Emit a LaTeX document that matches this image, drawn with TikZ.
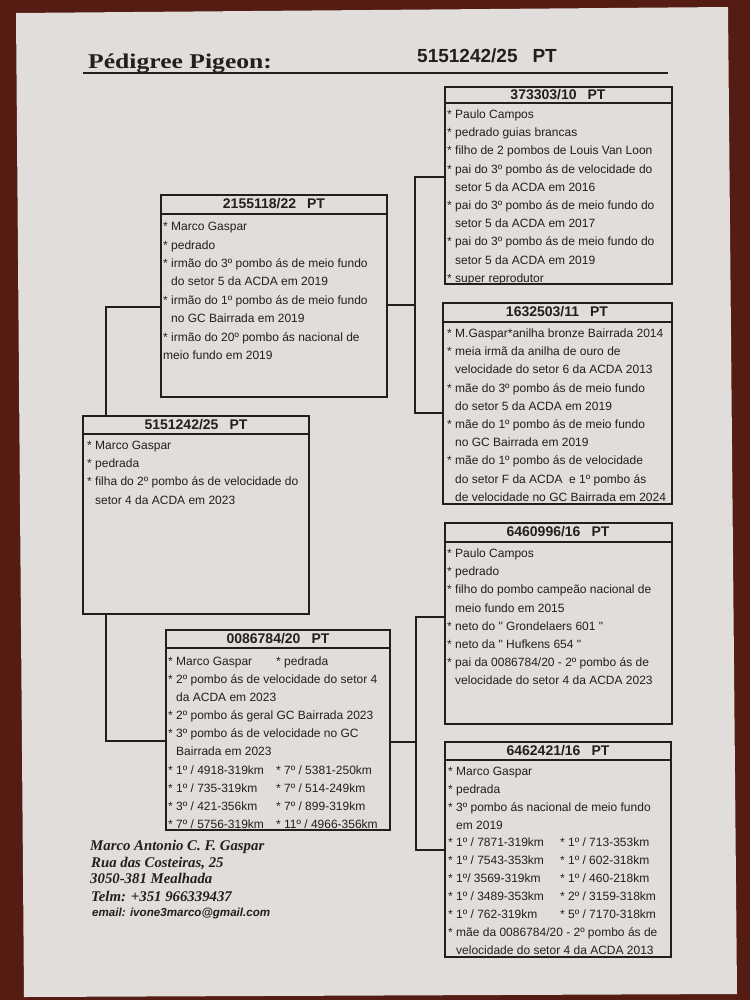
\documentclass[tikz,border=0pt]{standalone}
\usepackage{fontspec}
\newfontfamily\arialf{Liberation Sans}
\newfontfamily\tnrf{Liberation Serif}
\newfontfamily\titlef{Liberation Serif}[FakeStretch=1.22]
\definecolor{ink}{RGB}{36,30,28}
\definecolor{paperc}{RGB}{224,221,218}
\definecolor{bgc}{RGB}{84,28,18}
\begin{document}
\begin{tikzpicture}[x=1pt,y=-1pt,
  pbox/.style={draw=ink,line width=1.8pt,inner sep=0pt,outer sep=0pt,anchor=north west},
  conn/.style={draw=ink,line width=1.1pt},
  hrule/.style={draw=ink,line width=1.6pt},
  hdr/.style={font=\arialf\bfseries\fontsize{14}{16}\selectfont,text=ink,inner sep=0pt},
  body/.style={font=\arialf\fontsize{12}{18.2}\selectfont,text=ink,inner sep=0pt,anchor=north west,align=left},
  addr/.style={font=\tnrf\bfseries\itshape\fontsize{14.8}{17}\selectfont,text=ink,inner sep=0pt,anchor=base west},
]
\useasboundingbox (0,0) rectangle (750,1000);
\fill[bgc] (0,0) rectangle (750,1000);
\fill[paperc] (16,13) -- (728,7) -- (737,994) -- (24,997) -- cycle;

% title
\node[anchor=base west,inner sep=0pt,text=ink,font=\titlef\bfseries\fontsize{21}{24}\selectfont] (title) at (88,69) {Pédigree Pigeon:};
\node[anchor=base west,inner sep=0pt,text=ink,font=\arialf\bfseries\fontsize{19}{22}\selectfont] (ring) at (417,63) {5151242/25\hspace{15pt}PT};
\draw[ink,line width=2.4pt] (83,73) -- (668,73);

% boxes
\node[pbox,minimum width=227pt,minimum height=197pt] (b1) at (445,87) {};
\node[pbox,minimum width=229pt,minimum height=201pt] (b2) at (443,303) {};
\node[pbox,minimum width=226pt,minimum height=202pt] (b3) at (161,195) {};
\node[pbox,minimum width=226pt,minimum height=198pt] (b4) at (83,416) {};
\node[pbox,minimum width=227pt,minimum height=201pt] (b5) at (445,523) {};
\node[pbox,minimum width=224pt,minimum height=200pt] (b6) at (166,630) {};
\node[pbox,minimum width=226pt,minimum height=215pt] (b7) at (445,742) {};

% header rules
\draw[hrule] ([yshift=-16pt]b1.north west) -- ([yshift=-16pt]b1.north east);
\draw[hrule] ([yshift=-19pt]b2.north west) -- ([yshift=-19pt]b2.north east);
\draw[hrule] ([yshift=-19pt]b3.north west) -- ([yshift=-19pt]b3.north east);
\draw[hrule] ([yshift=-18pt]b4.north west) -- ([yshift=-18pt]b4.north east);
\draw[hrule] ([yshift=-19pt]b5.north west) -- ([yshift=-19pt]b5.north east);
\draw[hrule] ([yshift=-18pt]b6.north west) -- ([yshift=-18pt]b6.north east);
\draw[hrule] ([yshift=-18pt]b7.north west) -- ([yshift=-18pt]b7.north east);

% headers
\node[hdr] (h1) at (558,95) {373303/10\hspace{11pt}PT};
\node[hdr] (h2) at (557,312) {1632503/11\hspace{11pt}PT};
\node[hdr] (h3) at (274,204) {2155118/22\hspace{11pt}PT};
\node[hdr] (h4) at (196,425) {5151242/25\hspace{11pt}PT};
\node[hdr] (h5) at (558,532) {6460996/16\hspace{11pt}PT};
\node[hdr] (h6) at (278,639) {0086784/20\hspace{11pt}PT};
\node[hdr] (h7) at (558,751) {6462421/16\hspace{11pt}PT};

% bodies
\node[body] (t1) at (447,105.6) {\strut* Paulo Campos\\
* pedrado guias brancas\\
* filho de 2 pombos de Louis Van Loon\\
* pai do 3º pombo ás de velocidade do\\
\phantom{* }setor 5 da ACDA em 2016\\
* pai do 3º pombo ás de meio fundo do\\
\phantom{* }setor 5 da ACDA em 2017\\
* pai do 3º pombo ás de meio fundo do\\
\phantom{* }setor 5 da ACDA em 2019\\
* super reprodutor};

\node[body] (t2) at (447,324.6) {\strut* M.Gaspar*anilha bronze Bairrada 2014\\
* meia irmã da anilha de ouro de\\
\phantom{* }velocidade do setor 6 da ACDA 2013\\
* mãe do 3º pombo ás de meio fundo\\
\phantom{* }do setor 5 da ACDA em 2019\\
* mãe do 1º pombo ás de meio fundo\\
\phantom{* }no GC Bairrada em 2019\\
* mãe do 1º pombo ás de velocidade\\
\phantom{* }do setor F da ACDA\ \ e 1º pombo ás\\
\phantom{* }de velocidade no GC Bairrada em 2024};

\node[body,font=\arialf\fontsize{12}{18.4}\selectfont] (t3) at (163,217.6) {\strut* Marco Gaspar\\
* pedrado\\
* irmão do 3º pombo ás de meio fundo\\
\phantom{* }do setor 5 da ACDA em 2019\\
* irmão do 1º pombo ás de meio fundo\\
\phantom{* }no GC Bairrada em 2019\\
* irmão do 20º pombo ás nacional de\\
meio fundo em 2019};

\node[body] (t4) at (87,436.6) {\strut* Marco Gaspar\\
* pedrada\\
* filha do 2º pombo ás de velocidade do\\
\phantom{* }setor 4 da ACDA em 2023};

\node[body] (t5) at (447,544.6) {\strut* Paulo Campos\\
* pedrado\\
* filho do pombo campeão nacional de\\
\phantom{* }meio fundo em 2015\\
* neto do " Grondelaers 601 "\\
* neto da " Hufkens 654 "\\
* pai da 0086784/20 - 2º pombo ás de\\
\phantom{* }velocidade do setor 4 da ACDA 2023};

\node[body,font=\arialf\fontsize{12}{18.1}\selectfont] (t6) at (168,652.6) {\strut\makebox[108pt][l]{* Marco Gaspar}* pedrada\\
* 2º pombo ás de velocidade do setor 4\\
\phantom{* }da ACDA em 2023\\
* 2º pombo ás geral GC Bairrada 2023\\
* 3º pombo ás de velocidade no GC\\
\phantom{* }Bairrada em 2023\\
\makebox[108pt][l]{* 1º / 4918-319km}* 7º / 5381-250km\\
\makebox[108pt][l]{* 1º / 735-319km}* 7º / 514-249km\\
\makebox[108pt][l]{* 3º / 421-356km}* 7º / 899-319km\\
\makebox[108pt][l]{* 7º / 5756-319km}* 11º / 4966-356km};

\node[body,font=\arialf\fontsize{12}{17.9}\selectfont] (t7) at (448,762.6) {\strut* Marco Gaspar\\
* pedrada\\
* 3º pombo ás nacional de meio fundo\\
\phantom{* }em 2019\\
\makebox[112pt][l]{* 1º / 7871-319km}* 1º / 713-353km\\
\makebox[112pt][l]{* 1º / 7543-353km}* 1º / 602-318km\\
\makebox[112pt][l]{* 1º/ 3569-319km}* 1º / 460-218km\\
\makebox[112pt][l]{* 1º / 3489-353km}* 2º / 3159-318km\\
\makebox[112pt][l]{* 1º / 762-319km}* 5º / 7170-318km\\
* mãe da 0086784/20 - 2º pombo ás de\\
\phantom{* }velocidade do setor 4 da ACDA 2013};

% connectors
\coordinate (s0) at (106,307);
\coordinate (d0) at (106,741);
\coordinate (s1) at (415,177);
\coordinate (m1) at (415,305);
\coordinate (d1) at (415,413);
\coordinate (s2) at (416,617);
\coordinate (m2) at (416,742);
\coordinate (d2) at (416,850);
\draw[conn] (b3.west |- s0) -- (s0) -- (b4.north -| s0);
\draw[conn] (b4.south -| d0) -- (d0) -- (b6.west |- d0);
\draw[conn] (b1.west |- s1) -- (s1) -- (d1) -- (b2.west |- d1);
\draw[conn] (b3.east |- m1) -- (m1);
\draw[conn] (b5.west |- s2) -- (s2) -- (d2) -- (b7.west |- d2);
\draw[conn] (b6.east |- m2) -- (m2);

% address
\node[addr] (a1) at (90,850) {Marco Antonio C. F. Gaspar};
\node[addr] (a2) at (91,867) {Rua das Costeiras, 25};
\node[addr] (a3) at (90,883) {3050-381 Mealhada};
\node[addr] (a4) at (91,901) {Telm: +351 966339437};
\node[addr,font=\arialf\bfseries\itshape\fontsize{11.6}{14}\selectfont] (a5) at (92,916) {email: ivone3marco@gmail.com};
\end{tikzpicture}
\end{document}
